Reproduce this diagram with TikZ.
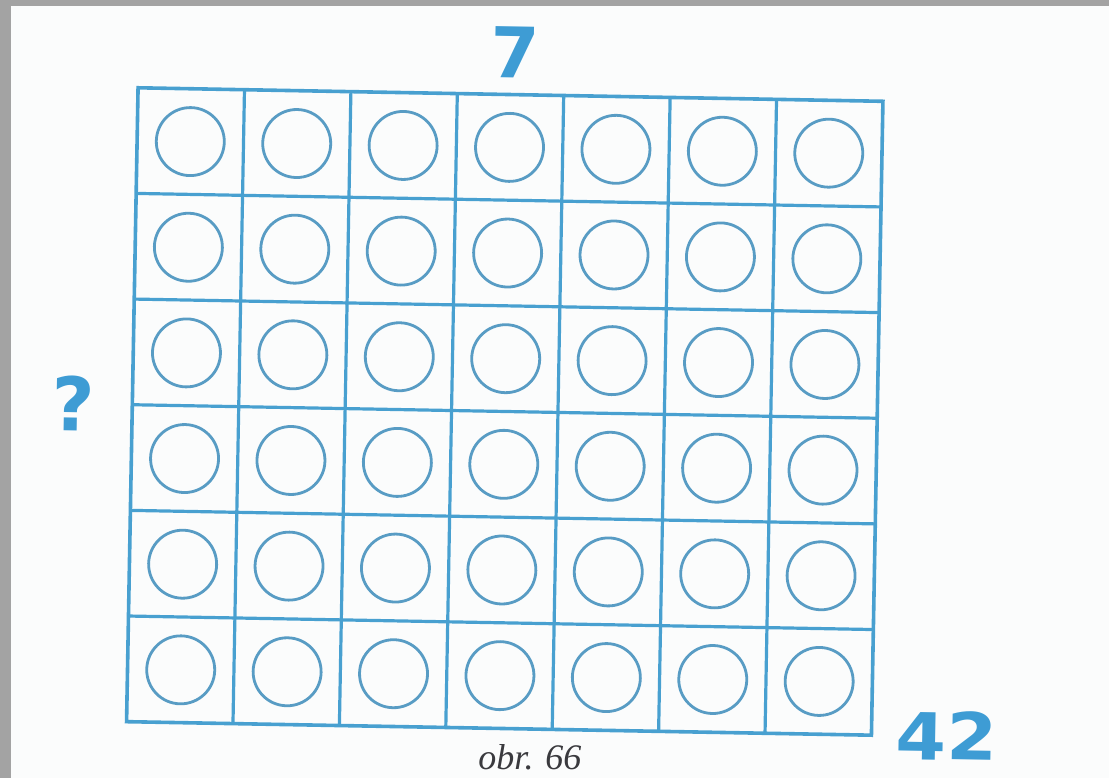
\documentclass[tikz,border=0pt]{standalone}
\usepackage{fontspec}
\setmainfont{Liberation Serif}
\newfontfamily\numfont{DejaVu Sans}
\usetikzlibrary{positioning}

\definecolor{gridblue}{RGB}{72,160,208}
\definecolor{ringblue}{RGB}{88,156,196}
\definecolor{numblue}{RGB}{62,156,212}
\definecolor{scangray}{RGB}{163,163,163}
\definecolor{paper}{RGB}{251,252,252}
\definecolor{caption}{RGB}{58,58,62}

\begin{document}
\begin{tikzpicture}[
  x=1pt, y=1pt,
  gridline/.style = {draw=gridblue, line width=3.2pt},
  frameline/.style= {draw=gridblue, line width=3.6pt, line join=miter},
  ring/.style     = {draw=ringblue, line width=2.8pt},
  bignum/.style   = {text=numblue, inner sep=0pt, anchor=base, rotate=-1,
                     font=\numfont\bfseries},
  capt/.style     = {text=caption, inner sep=0pt, anchor=base,
                     font=\fontsize{36}{36}\selectfont\itshape}
]
% page and scan edges
\fill[paper] (0,0) rectangle (1109,778);
\fill[scangray] (0,772) rectangle (1109,778);
\fill[scangray] (0,0) rectangle (11,778);
\useasboundingbox (0,0) rectangle (1109,778);

% the 7 x 6 board
\begin{scope}[shift={(504.75,366.5)}, rotate=-1.04]
  \foreach \i in {1,...,6}
    \draw[gridline] (-372.5+106.43*\i,-317) -- (-372.5+106.43*\i,317);
  \foreach \j in {1,...,5}
    \draw[gridline] (-372.5,-317+105.67*\j) -- (372.5,-317+105.67*\j);
  \draw[frameline] (-372.5,-317) rectangle (372.5,317);
  \foreach \c in {0,...,6}
    \foreach \r in {0,...,5}
      \draw[ring] (-372.5+106.43*\c+53.2,-317+105.67*\r+52.8) circle[radius=34];
\end{scope}

% labels
\node[bignum, font=\numfont\bfseries\fontsize{70}{70}\selectfont] (cols) at (515,700) {7};
\node[bignum, font=\numfont\bfseries\fontsize{74}{74}\selectfont] (rows) at (73,347) {?};
\node[bignum, xscale=1.12, font=\numfont\bfseries\fontsize{65}{65}\selectfont] (total) at (946,18) {42};
\node[capt] (fig) at (530,8) {obr. 66};
\end{tikzpicture}
\end{document}
